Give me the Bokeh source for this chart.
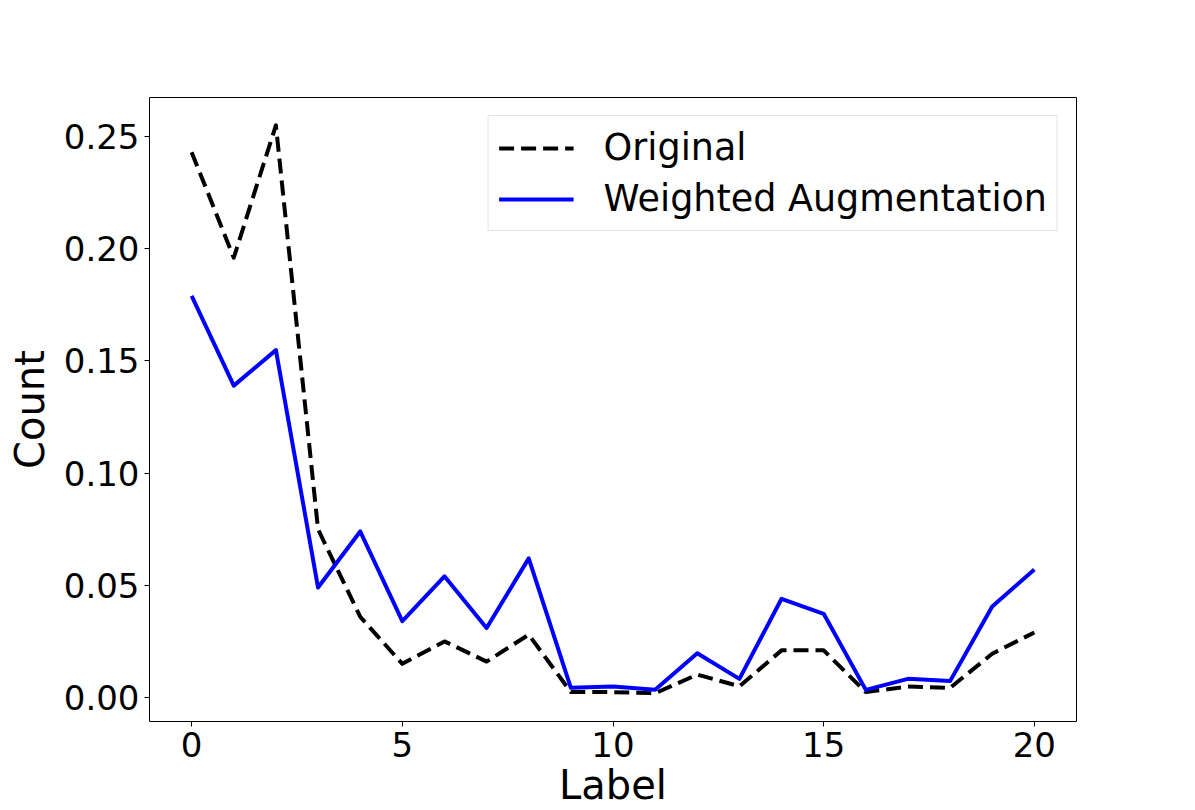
from bokeh.plotting import figure
from bokeh.models import Range1d, FixedTicker, NumeralTickFormatter, Legend, LegendItem
from bokeh.embed import file_html
from bokeh.resources import INLINE

labels = list(range(21))
original = [0.243, 0.196, 0.255, 0.075, 0.036, 0.015, 0.025, 0.016, 0.028, 0.0024,
            0.0024, 0.0019, 0.0102, 0.005, 0.021, 0.021, 0.0024, 0.0049, 0.0043, 0.0195, 0.029]
weighted = [0.179, 0.139, 0.1548, 0.049, 0.074, 0.034, 0.054, 0.031, 0.062, 0.0043,
            0.0049, 0.0034, 0.0197, 0.0083, 0.044, 0.0373, 0.0034, 0.0083, 0.0073, 0.0406, 0.057]
x_ticks = [0, 5, 10, 15, 20]
y_ticks = [0.0, 0.05, 0.10, 0.15, 0.20, 0.25]

FONT = "DejaVu Sans"

p = figure(width=1195, height=810, output_backend="svg", toolbar_location=None,
           x_range=Range1d(-1.0, 21.0), y_range=Range1d(-0.0107, 0.2674),
           min_border_left=149, min_border_right=119, min_border_top=97, min_border_bottom=89)

p.background_fill_color = "white"
p.border_fill_color = "white"
p.outline_line_color = "black"
p.outline_line_width = 1
p.xgrid.visible = False
p.ygrid.visible = False

r1 = p.line(labels, original, line_color="black", line_width=4, line_dash="15 7", line_join="round")
r2 = p.line(labels, weighted, line_color="#0000ff", line_width=4, line_join="round")

for ax in (p.xaxis[0], p.yaxis[0]):
    ax.axis_line_color = None
    ax.major_tick_line_color = "black"
    ax.major_tick_line_width = 1
    ax.major_tick_out = 5
    ax.major_tick_in = 0
    ax.minor_tick_line_color = None
    ax.major_label_text_font = FONT
    ax.major_label_text_font_size = "34px"
    ax.major_label_text_color = "black"
    ax.major_label_standoff = 5
    ax.axis_label_text_font = FONT
    ax.axis_label_text_font_size = "40px"
    ax.axis_label_text_font_style = "normal"
    ax.axis_label_text_color = "black"

p.xaxis[0].ticker = FixedTicker(ticks=x_ticks)
p.yaxis[0].ticker = FixedTicker(ticks=y_ticks)
p.yaxis[0].formatter = NumeralTickFormatter(format="0.00")
p.xaxis[0].axis_label = "Label"
p.yaxis[0].axis_label = "Count"
p.xaxis[0].axis_label_standoff = 2
p.yaxis[0].axis_label_standoff = 8

legend = Legend(items=[LegendItem(label="Original", renderers=[r1]),
                       LegendItem(label="Weighted Augmentation", renderers=[r2])],
                location="top_right", margin=18, padding=10, spacing=8,
                glyph_width=75, glyph_height=40, label_height=40, label_standoff=30,
                label_text_font=FONT, label_text_font_size="36.5px", label_text_color="black",
                border_line_color="#cccccc", border_line_width=1,
                background_fill_color="white", background_fill_alpha=0.8)
p.add_layout(legend)

open("out.html", "w").write(file_html(p, INLINE))
